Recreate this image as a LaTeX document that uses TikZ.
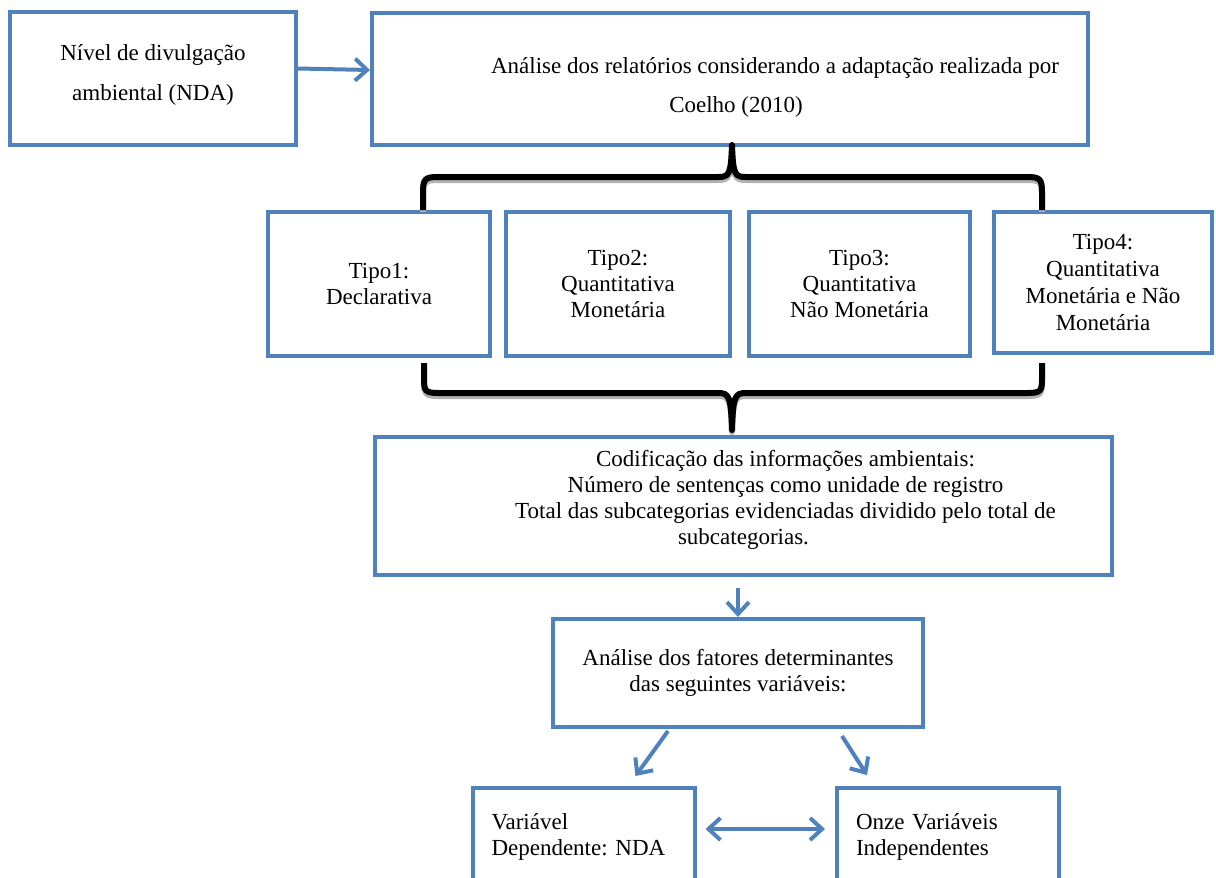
\documentclass[tikz,border=0pt]{standalone}
\usepackage{fontspec}
\setmainfont{Liberation Serif}
\usepackage{tikz}
\usetikzlibrary{arrows.meta, calc}

\definecolor{azulword}{RGB}{79,129,189}
\frenchspacing

\tikzset{
    caixa/.style={draw=azulword, line width=2pt, align=center, inner sep=0pt,
        font=\fontsize{11.5pt}{13pt}\selectfont},
    seta/.style={draw=azulword, line width=2pt, -{Straight Barb[length=6pt,width=11pt]}},
    chave/.style={draw=black, line width=3pt, line join=round}
}

\begin{document}
\begin{tikzpicture}[x=0.5pt, y=-0.5pt]
        \useasboundingbox (0,0) rectangle (1216,878);
        \clip (0,0) rectangle (1216,878);

        \node[caixa, minimum width=143pt, minimum height=66.5pt,
            font=\fontsize{11.5pt}{20pt}\selectfont] (nda) at (153,78.5)
            {Nível de divulgação\\ambiental (NDA)\rule[-6pt]{0pt}{6pt}};
        \node[caixa, minimum width=358pt, minimum height=66pt,
            font=\fontsize{11.5pt}{19.5pt}\selectfont] (relat) at (730,79)
            {\rule{0pt}{16.5pt}\hspace*{45pt}Análise dos relatórios considerando a adaptação realizada por\\\hspace*{6pt}Coelho (2010)};

        \node[caixa, minimum width=111pt, minimum height=72pt] (tipo1) at (379,284) {Tipo1:\\Declarativa};
        \node[caixa, minimum width=112pt, minimum height=72pt] (tipo2) at (618,284) {Tipo2:\\Quantitativa\\Monetária};
        \node[caixa, minimum width=110.5pt, minimum height=72pt] (tipo3) at (859.5,284) {Tipo3:\\Quantitativa\\Não Monetária};
        \node[caixa, minimum width=109pt, minimum height=70.5pt,
            font=\fontsize{11.5pt}{13.5pt}\selectfont] (tipo4) at (1103,282.5) {Tipo4:\\Quantitativa\\Monetária e Não\\Monetária};

        \node[caixa, minimum width=368.5pt, minimum height=69pt] (codif) at (743.5,506)
            {\hspace*{42pt}Codificação das informações ambientais:\\
             \hspace*{42pt}Número de sentenças como unidade de registro\\
             \hspace*{42pt}Total das subcategorias evidenciadas dividido pelo total de\\
             subcategorias.\rule[-8.5pt]{0pt}{8.5pt}};

        \node[caixa, minimum width=185pt, minimum height=54pt] (analise) at (738,673)
            {Análise dos fatores determinantes\\das seguintes variáveis:};

        \node[caixa, align=left, text width=92pt, inner xsep=9.5pt, minimum height=48.5pt] (varnda) at (583.5,836.5)
            {Variável\\Dependente: NDA};
        \node[caixa, align=left, text width=92pt, inner xsep=9.5pt, minimum height=48.5pt] (onze) at (948,836.5)
            {Onze Variáveis\\Independentes};

        % chaves
        \draw[chave, gray!60] (423,212) -- (423,195) .. controls (423,182) and (425,180) .. (438,180) -- (718,180) .. controls (729,180) and (731,178) .. (732,148) .. controls (733,178) and (735,180) .. (746,180) -- (1027,180) .. controls (1040,180) and (1042,182) .. (1042,195) -- (1042,212);
        \draw[chave] (423,210) -- (423,192) .. controls (423,179) and (425,177) .. (438,177) -- (718,177) .. controls (729,177) and (731,175) .. (732,145) .. controls (733,175) and (735,177) .. (746,177) -- (1027,177) .. controls (1040,177) and (1042,179) .. (1042,192) -- (1042,210);
        \draw[chave, gray!60] (424,366) -- (424,383) .. controls (424,394) and (426,396) .. (438,396) -- (718,396) .. controls (729,396) and (731,399) .. (732,432) .. controls (733,399) and (735,396) .. (746,396) -- (1028,396) .. controls (1040,396) and (1042,394) .. (1042,383) -- (1042,366);
        \draw[chave] (424,363) -- (424,380) .. controls (424,391) and (426,393) .. (438,393) -- (718,393) .. controls (729,393) and (731,396) .. (732,430) .. controls (733,396) and (735,393) .. (746,393) -- (1028,393) .. controls (1040,393) and (1042,391) .. (1042,380) -- (1042,363);

        % setas
        \draw[seta] ($(nda.east)+(0,-10)$) -- ($(relat.west)+(0,-9)$);
        \draw[seta, shorten <=5.5pt] (analise.north |- codif.south) -- (analise.north);
        \draw[seta] ($(analise.south)+(-70,2)$) -- ($(varnda.north)+(52,-10)$);
        \draw[seta] ($(analise.south)+(104,7)$) -- ($(onze.north)+(-81,-11)$);
        \draw[seta, {Straight Barb[length=6pt,width=11pt]}-{Straight Barb[length=6pt,width=11pt]}]
            ($(varnda.east)+(9,-7.5)$) -- ($(onze.west)+(-10,-7.5)$);
\end{tikzpicture}
\end{document}
